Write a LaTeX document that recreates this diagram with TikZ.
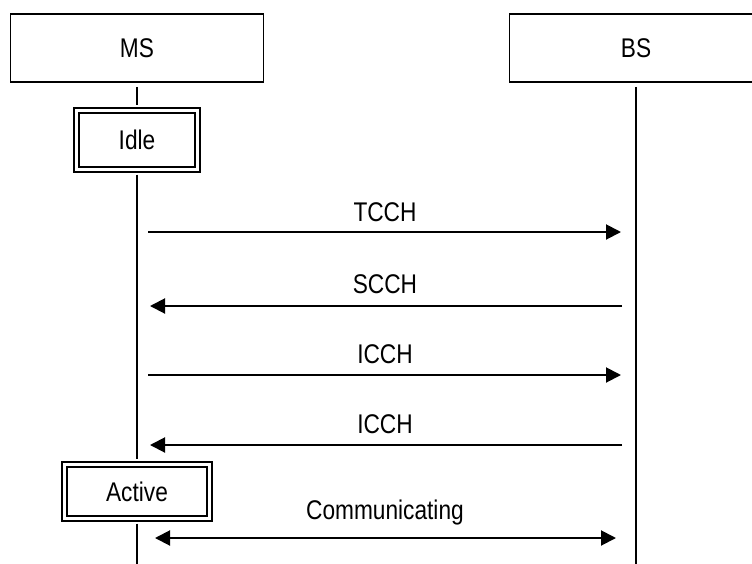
\documentclass[tikz,border=0pt]{standalone}
\usepackage{fontspec}
\setmainfont{Liberation Sans}[FakeStretch=0.84]
\usetikzlibrary{arrows.meta,positioning}

\begin{document}
\begin{tikzpicture}[x=0.5pt, y=-0.5pt,
  party/.style={rectangle, draw, line width=0.75pt, minimum width=126.5pt, minimum height=34pt, inner sep=0pt, font=\fontsize{13.5}{16}\selectfont},
  phase/.style={rectangle, draw, line width=1.1pt, double, double distance=1.5pt, inner sep=0pt, font=\fontsize{13.5}{16}\selectfont},
  life/.style={line width=0.75pt},
  msg/.style={-{Triangle[length=7.5pt, width=7.5pt]}, line width=1pt},
  duplex/.style={{Triangle[length=7.5pt, width=7.5pt]}-{Triangle[length=7.5pt, width=7.5pt]}, line width=1pt},
  msglbl/.style={font=\fontsize{13.5}{16}\selectfont, anchor=base}
]
  \useasboundingbox (0,0) rectangle (752,564);

  % parties
  \node[party] (ms) at (137,48) {MS};
  \node[party] (bs) at (636,48) {BS};

  % states on the MS lifeline
  \node[phase, minimum width=60.5pt, minimum height=29.5pt] (idle) at (137,140) {Idle};
  \node[phase, minimum width=72.5pt, minimum height=27pt] (active) at (137,491.5) {Active};

  % lifeline ends and message points
  \coordinate (msend) at (137,564);
  \coordinate (bsend) at (636,564);
  \foreach \y [count=\i] in {232,306,375,445,538} {
    \coordinate (ms\i) at (137,\y);
    \coordinate (bs\i) at (636,\y);
  }

  \draw[life, shorten <=2pt, shorten >=2pt] (ms) -- (idle);
  \draw[life, shorten <=2pt, shorten >=2pt] (idle) -- (active);
  \draw[life, shorten <=2pt] (active) -- (msend);
  \draw[life, shorten <=2pt] (bs) -- (bsend);

  % messages
  \draw[msg, shorten <=5.5pt, shorten >=7.5pt] (ms1) -- (bs1);
  \node[msglbl] (tcch) at (385,221) {TCCH};

  \draw[msg, shorten <=7pt, shorten >=6.5pt] (bs2) -- (ms2);
  \node[msglbl] (scch) at (385,293) {SCCH};

  \draw[msg, shorten <=5.5pt, shorten >=7.5pt] (ms3) -- (bs3);
  \node[msglbl] (icchup) at (385,363) {ICCH};

  \draw[msg, shorten <=7pt, shorten >=6.5pt] (bs4) -- (ms4);
  \node[msglbl] (icchdown) at (385,433) {ICCH};

  \draw[duplex, shorten <=9pt, shorten >=10pt] (ms5) -- (bs5);
  \node[msglbl] (comm) at (385,519) {Communicating};
\end{tikzpicture}
\end{document}
